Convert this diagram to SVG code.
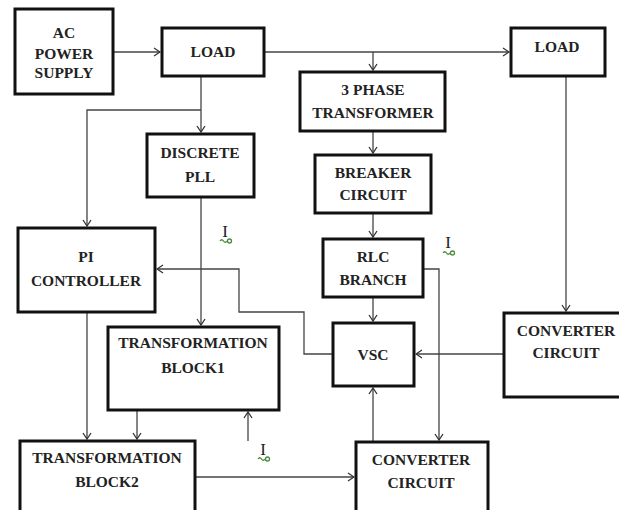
<svg xmlns="http://www.w3.org/2000/svg" width="619" height="510" viewBox="0 0 619 510">
<style>
.box{fill:#fff;stroke:#111;stroke-width:3}
.t{font-family:"Liberation Serif","Times New Roman",serif;font-weight:bold;font-size:15.5px;fill:#222;text-anchor:middle}
.c{fill:none;stroke:#444;stroke-width:1.3}
.i{font-family:"Liberation Serif","Times New Roman",serif;font-size:17px;fill:#222;text-anchor:middle}
.g{fill:none;stroke:#4a8a3a;stroke-width:1.3}
</style>
<defs>
<marker id="a" markerWidth="10" markerHeight="10" refX="9" refY="5" orient="auto" markerUnits="userSpaceOnUse">
<path d="M3,1 L9,5 L3,9" fill="none" stroke="#333" stroke-width="1.3"/>
</marker>
<g id="sq"><path class="g" d="M-7,0 q1.75,-2.5 3.5,0 t3.5,0"/><circle class="g" cx="2.5" cy="0" r="2"/></g>
</defs>
<rect width="619" height="510" fill="#fff"/>
<g id="connectors">
<path class="c" d="M114,52 H160" marker-end="url(#a)"/>
<path class="c" d="M265,52 H509" marker-end="url(#a)"/>
<path class="c" d="M373,52 V70" marker-end="url(#a)"/>
<path class="c" d="M373,132 V153" marker-end="url(#a)"/>
<path class="c" d="M373,214 V237" marker-end="url(#a)"/>
<path class="c" d="M373,298 V321" marker-end="url(#a)"/>
<path class="c" d="M201,77 V132" marker-end="url(#a)"/>
<path class="c" d="M201,110 H87 V226" marker-end="url(#a)"/>
<path class="c" d="M201,198 V325" marker-end="url(#a)"/>
<path class="c" d="M87,313 V439" marker-end="url(#a)"/>
<path class="c" d="M137,411 V439" marker-end="url(#a)"/>
<path class="c" d="M248,441 V412" marker-end="url(#a)"/>
<path class="c" d="M332,354 H304 V312 H239 V269 H157" marker-end="url(#a)"/>
<path class="c" d="M566,77 V311" marker-end="url(#a)"/>
<path class="c" d="M503,354 H416" marker-end="url(#a)"/>
<path class="c" d="M424,269 H439 V440" marker-end="url(#a)"/>
<path class="c" d="M373,441 V388" marker-end="url(#a)"/>
<path class="c" d="M195,477 H354" marker-end="url(#a)"/>
</g>
<g id="ac"><rect class="box" x="15" y="9" width="98" height="85"/><text class="t" x="64" y="38">AC</text><text class="t" x="64" y="59">POWER</text><text class="t" x="64" y="78">SUPPLY</text></g>
<g id="load1"><rect class="box" x="162" y="28" width="102" height="48"/><text class="t" x="213" y="57">LOAD</text></g>
<g id="load2"><rect class="box" x="511" y="28" width="94" height="48"/><text class="t" x="557" y="52">LOAD</text></g>
<g id="phase3"><rect class="box" x="300" y="72" width="145" height="59"/><text class="t" x="373" y="95">3 PHASE</text><text class="t" x="373" y="118">TRANSFORMER</text></g>
<g id="breaker"><rect class="box" x="315" y="155" width="116" height="58"/><text class="t" x="373" y="178">BREAKER</text><text class="t" x="373" y="200">CIRCUIT</text></g>
<g id="rlc"><rect class="box" x="323" y="239" width="100" height="58"/><text class="t" x="373" y="262">RLC</text><text class="t" x="373" y="285">BRANCH</text></g>
<g id="pll"><rect class="box" x="147" y="134" width="107" height="63"/><text class="t" x="200" y="158">DISCRETE</text><text class="t" x="200" y="182">PLL</text></g>
<g id="pi"><rect class="box" x="18" y="228" width="137" height="84"/><text class="t" x="86" y="262">PI</text><text class="t" x="86" y="286">CONTROLLER</text></g>
<g id="tb1"><rect class="box" x="108" y="327" width="171" height="83"/><text class="t" x="193" y="348">TRANSFORMATION</text><text class="t" x="193" y="373">BLOCK1</text></g>
<g id="vsc"><rect class="box" x="333" y="323" width="81" height="63"/><text class="t" x="373" y="360">VSC</text></g>
<g id="convr"><rect class="box" x="504" y="313" width="130" height="84"/><text class="t" x="566" y="336">CONVERTER</text><text class="t" x="566" y="358">CIRCUIT</text></g>
<g id="tb2"><rect class="box" x="20" y="441" width="175" height="80"/><text class="t" x="107" y="463">TRANSFORMATION</text><text class="t" x="107" y="487">BLOCK2</text></g>
<g id="convb"><rect class="box" x="356" y="442" width="132" height="80"/><text class="t" x="421" y="465">CONVERTER</text><text class="t" x="421" y="488">CIRCUIT</text></g>
<g id="sensor1"><text class="i" x="225" y="237">I</text><use href="#sq" x="227" y="241"/></g>
<g id="sensor2"><text class="i" x="448" y="248">I</text><use href="#sq" x="450" y="253"/></g>
<g id="sensor3"><text class="i" x="263" y="455">I</text><use href="#sq" x="265" y="459"/></g>
</svg>
